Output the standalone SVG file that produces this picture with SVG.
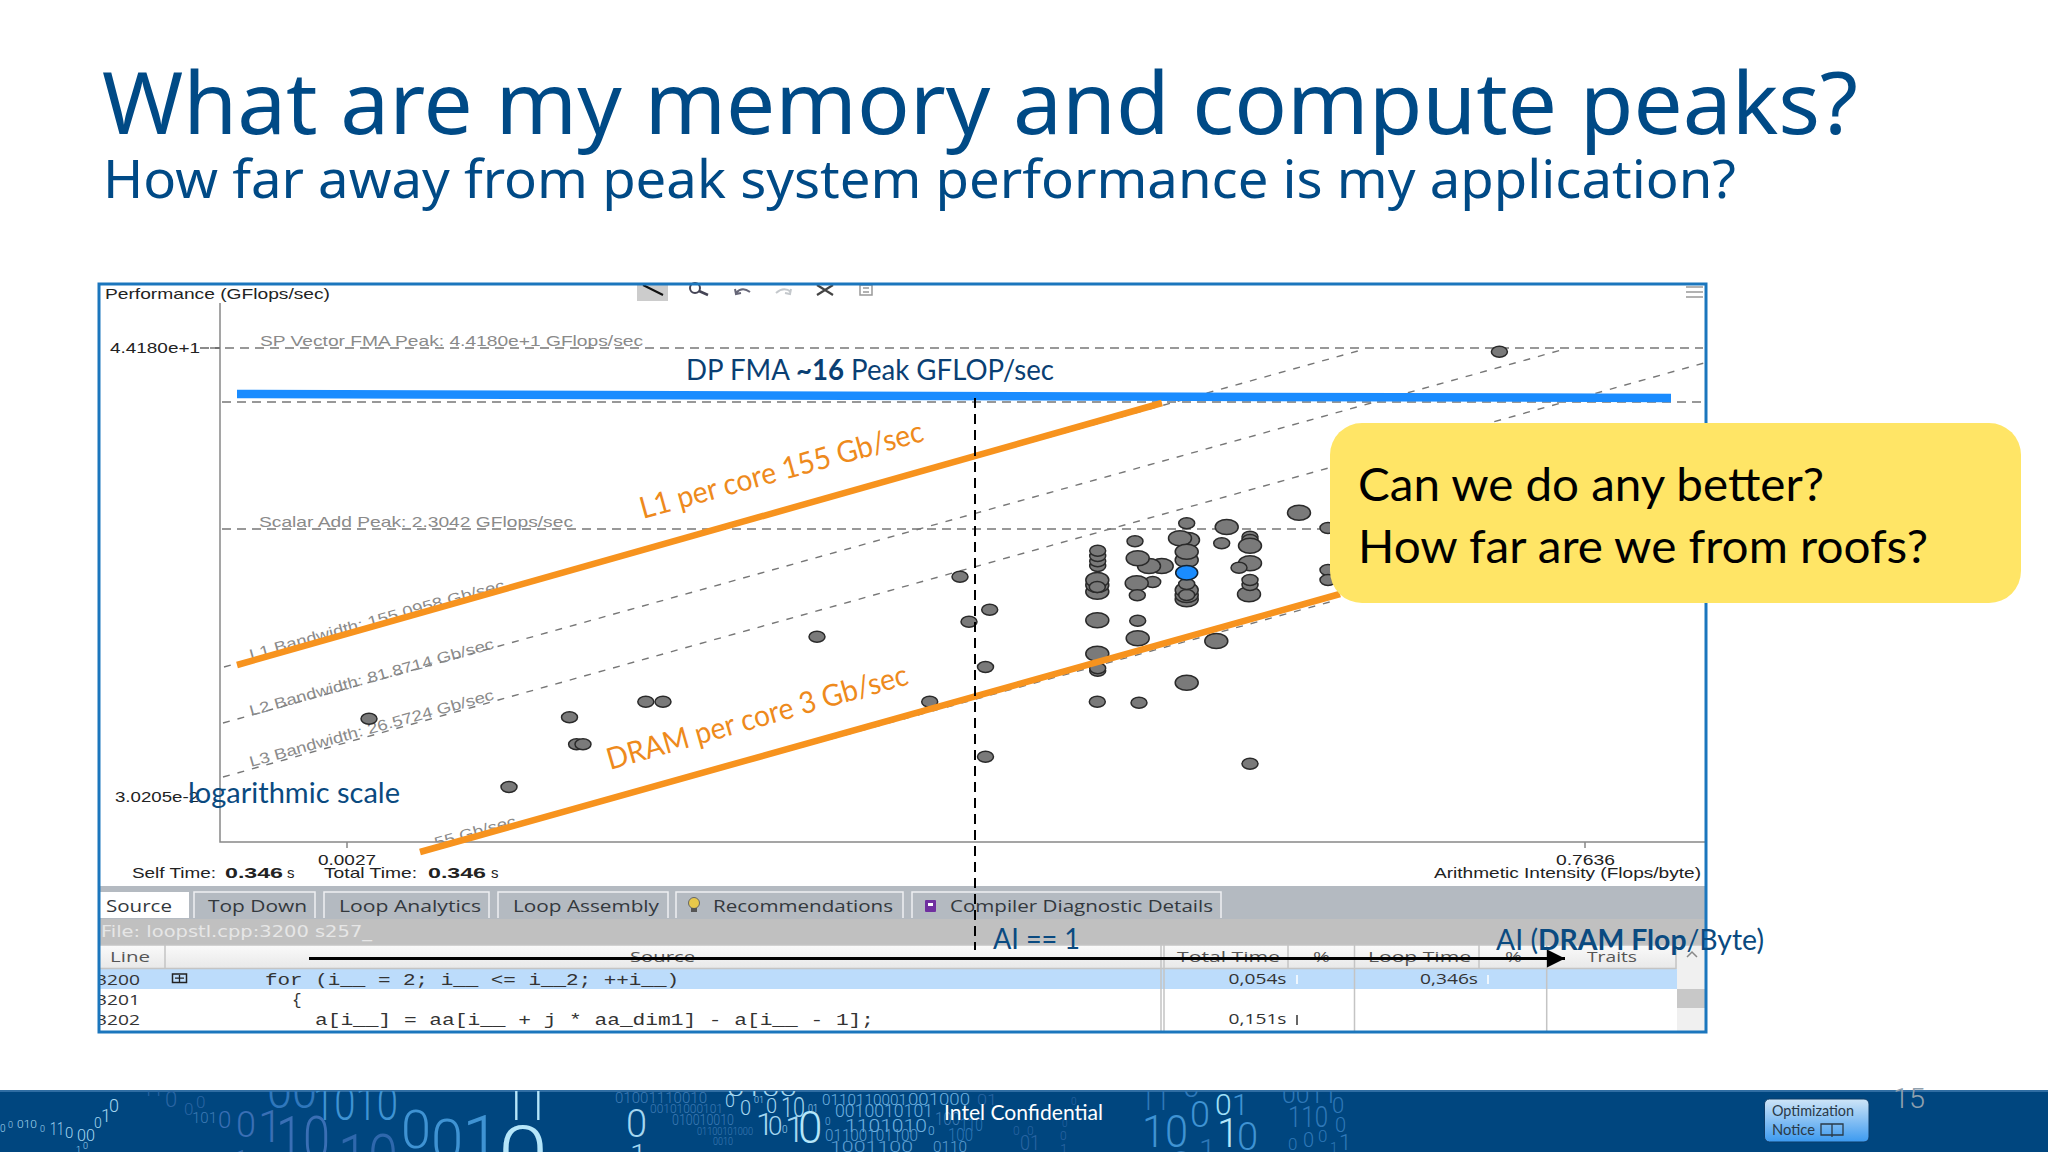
<svg xmlns="http://www.w3.org/2000/svg" width="2048" height="1152" viewBox="0 0 2048 1152">
<style>
text{font-family:"Liberation Sans",Arial,sans-serif}
.cal{font-family:Lato,"Noto Sans",sans-serif}
.ttl{font-family:"Noto Sans","Open Sans",sans-serif;fill:#004a86}
.mono{font-family:"Liberation Mono",monospace;font-size:16px;fill:#333}
.gr{fill:#8a8a8a;font-size:15px}
.ax{fill:#222;font-size:15px}
.tab{fill:#33383d;font-size:16px;font-family:"Open Sans","Noto Sans",sans-serif}
.tb{fill:#b4bac1;stroke:#eef0f2;stroke-width:1.5}
.hd{fill:#555;font-size:15px;font-family:"Open Sans",sans-serif}
.dk{fill:#333;font-size:15px;font-family:"Open Sans",sans-serif}
.h{fill:none;stroke:#777;stroke-width:1.5;stroke-dasharray:9 6}
.g{fill:none;stroke:#777;stroke-width:1.4;stroke-dasharray:7 8}
.o{fill:none;stroke:#f7931e;stroke-width:6.5}
.ot{fill:#ee8a1c;font-size:30px}
.navy{fill:#0a4a80;font-size:28px}
.s{fill:#7a7a7a;stroke:#2a2a2a;stroke-width:1.5}
.sep{stroke:#c4c4c4;stroke-width:1.5}
#digits text{font-family:Roboto,"Open Sans",sans-serif;font-weight:300}
.a{fill:#a4d6f0}.f{fill:#2a65a3}.m{fill:#3a6fb5}.b{fill:#3f93d3}.l{fill:#b5e6fa}.r{fill:#6fb2e0}.q{fill:#3e7bb5}.p{fill:#2f78b8}
</style>
<defs>
<clipPath id="fc"><rect x="0" y="1091" width="2048" height="61"/></clipPath>
<clipPath id="pc"><rect x="99" y="284" width="1606" height="748"/></clipPath>
<clipPath id="ac"><rect x="221" y="700" width="400" height="142"/></clipPath>
<linearGradient id="bt" x1="0" y1="0" x2="0" y2="1"><stop offset="0" stop-color="#cfe5f7"/><stop offset="1" stop-color="#3c9af0"/></linearGradient>
<linearGradient id="hdg" x1="0" y1="0" x2="0" y2="1"><stop offset="0" stop-color="#fafafa"/><stop offset="1" stop-color="#e8e8e8"/></linearGradient>
<marker id="ah" markerUnits="userSpaceOnUse" markerWidth="20" markerHeight="20" refX="18" refY="9" orient="auto"><path d="M0 0L18 9L0 18Z" fill="#000"/></marker>
<ellipse id="B" rx="11.5" ry="7.500" class="s"/>
<ellipse id="S" rx="8" ry="5.500" class="s"/>
</defs>
<rect width="2048" height="1152" fill="#fff"/>

<g id="title">
<text class="ttl" x="102" y="134" font-size="86" textLength="1756" lengthAdjust="spacingAndGlyphs">What are my memory and compute peaks?</text>
<text class="ttl" x="103" y="198" font-size="53" textLength="1633" lengthAdjust="spacingAndGlyphs">How far away from peak system performance is my application?</text>
</g>

<g id="chart">
<rect x="99" y="284" width="1607" height="748" fill="#fff"/>
<g id="toolbar" fill="none" stroke="#666" stroke-width="1.5">
<rect x="637" y="284" width="31" height="17" fill="#ccc" stroke="none"/>
<path d="M643 285L663 295" stroke="#111" stroke-width="2"/>
<circle cx="695" cy="288" r="5" stroke="#445" stroke-width="2"/><path d="M699 291L708 295" stroke="#445" stroke-width="2.5"/>
<path d="M736 293Q742 286 750 292M735 289L736 294L741 293" stroke="#667" stroke-width="2"/>
<path d="M791 292Q784 286 776 293M791 289L790 294L785 293" stroke="#c4c8cc" stroke-width="2"/>
<path d="M817 285L833 295M833 285L817 295" stroke="#444" stroke-width="2.200"/>
<rect x="860" y="285" width="12" height="10" stroke="#999"/><path d="M863 288H869M863 292H869" stroke="#999"/>
<path d="M1686 287H1703M1686 292H1703M1686 297H1703" stroke="#999"/>
</g>
<path d="M220 303V842H1705M347 842V848M1585 842V848" fill="none" stroke="#888" stroke-width="1.5"/>
<g id="chart-connectors">
<path class="h" d="M210 348H1703M222 402H1703M222 529H1703"/>
<path class="g" d="M224 667L1365 349M223 723L1565 349M223 777L1704 363M455 842L1337 600"/>
</g>
<g class="gr">
<text x="260" y="346" textLength="383" lengthAdjust="spacingAndGlyphs">SP Vector FMA Peak: 4.4180e+1 GFlops/sec</text>
<text x="259" y="527" textLength="314" lengthAdjust="spacingAndGlyphs">Scalar Add Peak: 2.3042 GFlops/sec</text>
<text transform="translate(251 660) rotate(-15.5)" textLength="264" lengthAdjust="spacingAndGlyphs">L1 Bandwidth: 155.0958 Gb/sec</text>
<text transform="translate(251 716) rotate(-15.5)" textLength="253" lengthAdjust="spacingAndGlyphs">L2 Bandwidth: 81.8714 Gb/sec</text>
<text transform="translate(251 767) rotate(-15.5)" textLength="253" lengthAdjust="spacingAndGlyphs">L3 Bandwidth: 26.5724 Gb/sec</text>
<g clip-path="url(#ac)"><text transform="translate(436 848) rotate(-15.5)" textLength="84" lengthAdjust="spacingAndGlyphs">55 Gb/sec</text></g>
</g>
<text x="105" y="299" class="ax" textLength="225" lengthAdjust="spacingAndGlyphs">Performance (GFlops/sec)</text>
<text x="110" y="353" class="ax" textLength="90" lengthAdjust="spacingAndGlyphs">4.4180e+1</text>
<text x="115" y="802" class="ax" textLength="84" lengthAdjust="spacingAndGlyphs">3.0205e-2</text>
<path d="M200 348H220" stroke="#666" stroke-dasharray="9 6" stroke-width="1.5" fill="none"/>
<text x="318" y="865" class="ax" textLength="58" lengthAdjust="spacingAndGlyphs">0.0027</text>
<text x="132" y="878" class="ax" textLength="84" lengthAdjust="spacingAndGlyphs">Self Time:</text>
<text x="225" y="878" class="ax" font-weight="700" textLength="58" lengthAdjust="spacingAndGlyphs">0.346</text>
<text x="287" y="878" class="ax">s</text>
<text x="324" y="878" class="ax" textLength="93" lengthAdjust="spacingAndGlyphs">Total Time:</text>
<text x="428" y="878" class="ax" font-weight="700" textLength="58" lengthAdjust="spacingAndGlyphs">0.346</text>
<text x="491" y="878" class="ax">s</text>
<text x="1556" y="865" class="ax" textLength="59" lengthAdjust="spacingAndGlyphs">0.7636</text>
<text x="1434" y="878" class="ax" textLength="267" lengthAdjust="spacingAndGlyphs">Arithmetic Intensity (Flops/byte)</text>

<g id="points">
<use href="#S" x="1499.4" y="351.7"/><use href="#S" x="960" y="576.7"/><use href="#S" x="989.7" y="609.7"/><use href="#S" x="969" y="621.7"/><use href="#S" x="817" y="636.7"/><use href="#S" x="985.5" y="667"/><use href="#S" x="929.7" y="701.7"/><use href="#S" x="985.5" y="756.7"/>
<use href="#S" x="369" y="718.7"/><use href="#S" x="569.5" y="717.3"/><use href="#S" x="645.8" y="701.7"/><use href="#S" x="663" y="701.7"/><use href="#S" x="576.6" y="744.3"/><use href="#S" x="583" y="744.3"/><use href="#S" x="509" y="787"/>
<use href="#S" x="1328" y="528"/><use href="#S" x="1328" y="570"/><use href="#S" x="1328" y="580"/>
<use href="#B" x="1299" y="512.7"/><use href="#S" x="1186.7" y="523.3"/><use href="#B" x="1226.7" y="527"/><use href="#S" x="1135" y="541.3"/>
<use href="#S" x="1250" y="536.7"/><use href="#S" x="1250" y="540"/><use href="#B" x="1250" y="545.7"/><use href="#S" x="1221.7" y="543.3"/>
<use href="#S" x="1097.7" y="566"/><use href="#S" x="1097.7" y="561.3"/><use href="#S" x="1097.7" y="556"/><use href="#S" x="1097.7" y="550.7"/>
<use href="#B" x="1161.7" y="566"/><use href="#B" x="1149" y="566"/><use href="#B" x="1137.7" y="558.3"/>
<use href="#B" x="1188" y="540"/><use href="#B" x="1180" y="538.3"/><use href="#B" x="1186.7" y="560"/><use href="#B" x="1186.7" y="551.7"/>
<use href="#B" x="1250" y="563.3"/><use href="#S" x="1239" y="567.7"/>
<use href="#B" x="1097.3" y="591.7"/><use href="#B" x="1097.3" y="585"/><use href="#B" x="1097.3" y="580"/><use href="#S" x="1097.3" y="587"/>
<use href="#S" x="1152.7" y="582"/><use href="#B" x="1136.7" y="583.3"/><use href="#S" x="1137.3" y="595.3"/>
<use href="#B" x="1186.7" y="599.3"/><use href="#B" x="1186.7" y="595"/><use href="#B" x="1186.7" y="590"/><use href="#S" x="1186.7" y="595"/><use href="#S" x="1186.7" y="584"/>
<ellipse cx="1186.7" cy="572.7" rx="11" ry="7.200" fill="#1a8cff" stroke="#123" stroke-width="1.5"/>
<use href="#B" x="1249" y="594.3"/><use href="#S" x="1250" y="585"/><use href="#S" x="1250" y="580"/>
<use href="#B" x="1097.3" y="620.3"/><use href="#S" x="1137.7" y="620.7"/><use href="#B" x="1137.7" y="638.3"/><use href="#B" x="1216.3" y="641"/>
<use href="#S" x="1097.7" y="670.7"/><use href="#S" x="1097.7" y="668.3"/><use href="#B" x="1097.3" y="653.7"/>
<use href="#B" x="1186.7" y="682.7"/><use href="#S" x="1097.3" y="701.7"/><use href="#S" x="1139" y="702.7"/><use href="#S" x="1250" y="763.7"/>
</g>

<g id="panel" clip-path="url(#pc)">
<rect x="99" y="886" width="1607" height="33" fill="#b4bac1"/>
<rect x="99" y="919" width="1607" height="26" fill="#c0c0c0"/>
<path d="M99 892H189V918H99Z" fill="#fff"/>
<path class="tb" d="M194 918V892H315V918"/>
<path class="tb" d="M324 918V892H489V918"/>
<path class="tb" d="M498 918V892H668V918"/>
<path class="tb" d="M676 918V892H903V918"/>
<path class="tb" d="M912 918V892H1221V918"/>
<text x="106" y="912" class="tab" textLength="66" lengthAdjust="spacingAndGlyphs">Source</text>
<text x="208" y="912" class="tab" textLength="99" lengthAdjust="spacingAndGlyphs">Top Down</text>
<text x="339" y="912" class="tab" textLength="142" lengthAdjust="spacingAndGlyphs">Loop Analytics</text>
<text x="513" y="912" class="tab" textLength="146" lengthAdjust="spacingAndGlyphs">Loop Assembly</text>
<text x="713" y="912" class="tab" textLength="180" lengthAdjust="spacingAndGlyphs">Recommendations</text>
<text x="950" y="912" class="tab" textLength="263" lengthAdjust="spacingAndGlyphs">Compiler Diagnostic Details</text>
<circle cx="694" cy="903" r="5.5" fill="#e8c84a" stroke="#666"/><rect x="691" y="908" width="6" height="4" fill="#555"/>
<rect x="925" y="900" width="11" height="12" rx="1" fill="#7030a0"/><rect x="928" y="903" width="5" height="3" fill="#fff"/>
<text x="101" y="937" style="font-family:'DejaVu Sans',sans-serif" font-size="15" fill="#e6e6e6" textLength="271" lengthAdjust="spacingAndGlyphs">File: loopstl.cpp:3200 s257_</text>
<rect x="99" y="945" width="1607" height="24" fill="url(#hdg)"/>
<rect x="100" y="969" width="1577" height="20" fill="#bcdcfb"/>
<rect x="1677" y="945" width="28" height="87" fill="#f0f0f0"/>
<rect x="1677" y="989" width="28" height="19" fill="#c8c8c8"/>
<path class="sep" d="M165 945V969M1161 945V1032M1164 945V1032M1288 945V969M1354.5 945V1032M1479 945V969M1546.7 945V1032M1676 945V969M99 968.5H1676M99 945H1706"/>
<text x="110" y="962" class="hd" textLength="40" lengthAdjust="spacingAndGlyphs">Line</text>
<text x="630" y="962" class="hd" textLength="65" lengthAdjust="spacingAndGlyphs">Source</text>
<text x="1177" y="962" class="hd" textLength="103" lengthAdjust="spacingAndGlyphs">Total Time</text>
<text x="1313" y="962" class="hd" textLength="17" lengthAdjust="spacingAndGlyphs">%</text>
<text x="1368" y="962" class="hd" textLength="103" lengthAdjust="spacingAndGlyphs">Loop Time</text>
<text x="1505" y="962" class="hd" textLength="17" lengthAdjust="spacingAndGlyphs">%</text>
<text x="1587" y="962" class="hd" textLength="50" lengthAdjust="spacingAndGlyphs">Traits</text>
<path d="M1687 957L1692 952L1697 957" fill="none" stroke="#888" stroke-width="1.5"/>
<text x="96" y="985" class="dk" textLength="44" lengthAdjust="spacingAndGlyphs">3200</text>
<text x="96" y="1005" class="dk" textLength="44" lengthAdjust="spacingAndGlyphs">3201</text>
<text x="96" y="1025" class="dk" textLength="44" lengthAdjust="spacingAndGlyphs">3202</text>
<rect x="172.500" y="974" width="14" height="8.500" fill="none" stroke="#222" stroke-width="1.5"/><path d="M175 978.200H184M179.500 975V982" stroke="#222" stroke-width="1.300"/>
<text x="265" y="985" class="mono" textLength="414" lengthAdjust="spacingAndGlyphs" xml:space="preserve">for (i__ = 2; i__ &lt;= i__2; ++i__)</text>
<text x="292" y="1005" class="mono">{</text>
<text x="315" y="1025" class="mono" textLength="559" lengthAdjust="spacingAndGlyphs" xml:space="preserve">a[i__] = aa[i__ + j * aa_dim1] - a[i__ - 1];</text>
<text x="1228.500" y="984" class="dk" textLength="58" lengthAdjust="spacingAndGlyphs">0,054s</text>
<text x="1420" y="984" class="dk" textLength="58" lengthAdjust="spacingAndGlyphs">0,346s</text>
<text x="1228.500" y="1024" class="dk" textLength="58" lengthAdjust="spacingAndGlyphs">0,151s</text>
<path d="M1297 975V984M1488 975V984" stroke="#fff" stroke-width="1.5"/>
<path d="M1297 1015V1025" stroke="#333" stroke-width="1.500"/>
</g>
<rect x="99" y="284" width="1607" height="748" fill="none" stroke="#1b76bd" stroke-width="3"/>
</g>

<g id="annotations">
<path d="M237 394L1671 398" fill="none" stroke="#1a8cff" stroke-width="8.500"/>
<path class="o" d="M237 665L1162 403"/>
<path class="o" d="M420 852L1340 594"/>
<path d="M975 398V950" fill="none" stroke="#000" stroke-width="2" stroke-dasharray="10 6"/>
<path d="M309 958.500H1565" fill="none" stroke="#000" stroke-width="3" marker-end="url(#ah)"/>
<text x="686" y="380" class="cal" font-size="28" fill="#0a3f73" textLength="368" lengthAdjust="spacingAndGlyphs">DP FMA <tspan font-weight="700">~16</tspan> Peak GFLOP/sec</text>
<text transform="translate(643 519) rotate(-15.500)" class="cal ot" textLength="293" lengthAdjust="spacingAndGlyphs">L1 per core 155 Gb/sec</text>
<text transform="translate(610 770) rotate(-16)" class="cal ot" textLength="312" lengthAdjust="spacingAndGlyphs">DRAM per core 3 Gb/sec</text>
<text x="188" y="803" class="cal navy" textLength="212" lengthAdjust="spacingAndGlyphs">logarithmic scale</text>
<text x="993" y="949" class="cal navy" textLength="87" lengthAdjust="spacingAndGlyphs">AI == 1</text>
<text x="1496" y="950" class="cal navy" textLength="268" lengthAdjust="spacingAndGlyphs">AI (<tspan font-weight="700">DRAM Flop</tspan>/Byte)</text>
</g>

<g id="callout">
<rect x="1330" y="423" width="691" height="180" rx="32" fill="#ffe566"/>
<text x="1358" y="501" class="cal" font-size="46" fill="#000" textLength="466" lengthAdjust="spacingAndGlyphs">Can we do any better?</text>
<text x="1358" y="563" class="cal" font-size="46" fill="#000" textLength="570" lengthAdjust="spacingAndGlyphs">How far are we from roofs?</text>
</g>

<g id="footer">
<rect x="0" y="1091" width="2048" height="61" fill="#00467f"/>
<rect x="0" y="1090" width="2048" height="2" fill="#2f6da3"/>
<g id="digits" clip-path="url(#fc)">
<text class="a" x="0" y="1132" font-size="10">0</text><text class="a" x="8" y="1128" font-size="9">0</text><text class="a" x="17" y="1128" font-size="11" textLength="20" lengthAdjust="spacingAndGlyphs">010</text><text class="a" x="40" y="1132" font-size="9">0</text>
<text class="a" x="50" y="1135" font-size="18" textLength="14" lengthAdjust="spacingAndGlyphs">11</text><text class="a" x="65" y="1138" font-size="15">0</text><text class="a" x="77" y="1141" font-size="16" textLength="18" lengthAdjust="spacingAndGlyphs">00</text>
<text class="a" x="94" y="1128" font-size="14">0</text><text class="a" x="101" y="1122" font-size="18">1</text><text class="a" x="109" y="1112" font-size="18">0</text><text class="a" x="76" y="1153" font-size="9">1</text><text class="a" x="83" y="1149" font-size="9">0</text>

<text class="f" x="143" y="1096" font-size="30" textLength="20" lengthAdjust="spacingAndGlyphs">11</text><text class="f" x="165" y="1107" font-size="22">0</text><text class="f" x="184" y="1115" font-size="17">0</text><text class="f" x="196" y="1108" font-size="17">0</text>
<text class="q" x="192" y="1123" font-size="15" textLength="25">101</text>
<text x="267" y="1108" font-size="50" textLength="50" lengthAdjust="spacingAndGlyphs" fill="#2f77bc">00</text>
<text class="b" x="313" y="1120" font-size="48" textLength="85" lengthAdjust="spacingAndGlyphs">1010</text>
<text class="m" x="218" y="1128" font-size="24">0</text><text class="m" x="236" y="1137" font-size="36">0</text><text class="m" x="258" y="1142" font-size="44">1</text>
<text class="m" x="276" y="1160" font-size="62" textLength="54" lengthAdjust="spacingAndGlyphs">10</text>
<text class="m" x="236" y="1165" font-size="20">1</text>
<text x="338" y="1180" font-size="64" textLength="60" lengthAdjust="spacingAndGlyphs" fill="#2f68ad">10</text>
<text class="b" x="401" y="1148" font-size="54">0</text><text class="b" x="431" y="1160" font-size="58">0</text><text class="b" x="462" y="1165" font-size="70">1</text>
<text class="l" x="504" y="1120" font-size="70" textLength="44" lengthAdjust="spacingAndGlyphs">11</text>
<text class="l" x="498" y="1182" font-size="80" textLength="50" lengthAdjust="spacingAndGlyphs">0</text>

<text class="q" x="615" y="1103" font-size="15" textLength="92" lengthAdjust="spacingAndGlyphs">01001110010</text>
<text class="q" x="650" y="1113" font-size="12" textLength="73" lengthAdjust="spacingAndGlyphs">00101000101</text>
<text class="q" x="672" y="1125" font-size="14" textLength="62" lengthAdjust="spacingAndGlyphs">010010010</text>
<text class="q" x="697" y="1135" font-size="10" textLength="56" lengthAdjust="spacingAndGlyphs">01100101000</text>
<text class="q" x="713" y="1145" font-size="10" textLength="20" lengthAdjust="spacingAndGlyphs">0010</text>
<text class="a" x="626" y="1137" font-size="38">0</text><text class="a" x="630" y="1165" font-size="30">1</text>
<text class="a" x="727" y="1096" font-size="20" textLength="70" lengthAdjust="spacingAndGlyphs">0100</text>
<text class="a" x="725" y="1107" font-size="18">0</text><text class="a" x="740" y="1115" font-size="20">0</text><text class="a" x="754" y="1103" font-size="9">01</text><text class="a" x="766" y="1113" font-size="20">0</text>
<text class="a" x="781" y="1117" font-size="28" textLength="24" lengthAdjust="spacingAndGlyphs">10</text><text class="a" x="808" y="1112" font-size="11" textLength="10" lengthAdjust="spacingAndGlyphs">01</text>
<text class="a" x="756" y="1135" font-size="32">1</text><text class="a" x="768" y="1135" font-size="26">0</text><text class="a" x="782" y="1133" font-size="10">0</text><text class="a" x="785" y="1142" font-size="36">1</text>
<text class="l" x="798" y="1143" font-size="44">0</text>
<g>
<text class="r" x="822" y="1105" font-size="15" textLength="85" lengthAdjust="spacingAndGlyphs">0110110001</text>
<text class="r" x="835" y="1117" font-size="18" textLength="98" lengthAdjust="spacingAndGlyphs">0010010101</text>
<text class="r" x="845" y="1132" font-size="19" textLength="82" lengthAdjust="spacingAndGlyphs">1101010</text>
<text class="r" x="825" y="1125" font-size="10">0</text>
<text x="825" y="1141" font-size="16" textLength="93" lengthAdjust="spacingAndGlyphs" fill="#5d9fd3">01100101100</text>
<text class="r" x="928" y="1135" font-size="12">0</text>
<text x="830" y="1152" font-size="15" textLength="83" lengthAdjust="spacingAndGlyphs" fill="#5d9fd3">1001100</text>
<text x="933" y="1152" font-size="14" textLength="34" fill="#5d9fd3" lengthAdjust="spacingAndGlyphs">0110</text>
<text class="p" x="948" y="1141" font-size="18" textLength="25" lengthAdjust="spacingAndGlyphs">100</text>
<text class="r" x="908" y="1105" font-size="16" textLength="62" lengthAdjust="spacingAndGlyphs">001000</text>
<text class="q" x="935" y="1125" font-size="18" textLength="25" lengthAdjust="spacingAndGlyphs">100</text>
<text class="p" x="960" y="1131" font-size="18" textLength="23" lengthAdjust="spacingAndGlyphs">110</text>
<text class="f" x="977" y="1105" font-size="14" textLength="20" lengthAdjust="spacingAndGlyphs">01</text>
</g>
<text class="f" x="1013" y="1135" font-size="12">0</text><text class="f" x="1027" y="1135" font-size="12">0</text><text class="f" x="1020" y="1150" font-size="20" textLength="20" lengthAdjust="spacingAndGlyphs">01</text>
<text class="f" x="1071" y="1105" font-size="10">0</text><text class="f" x="1062" y="1127" font-size="10">0</text><text class="f" x="1060" y="1140" font-size="12">0</text><text class="f" x="1060" y="1155" font-size="14">1</text>

<text class="p" x="1140" y="1110" font-size="50" textLength="30" lengthAdjust="spacingAndGlyphs">11</text>
<text class="p" x="1183" y="1097" font-size="30">0</text>
<text class="b" x="1142" y="1147" font-size="45" textLength="46" lengthAdjust="spacingAndGlyphs">10</text>
<text class="b" x="1190" y="1127" font-size="36">0</text>
<text x="1215" y="1115" font-size="30" fill="#9fe0f8">0</text><text class="b" x="1232" y="1115" font-size="30">1</text>
<text class="l" x="1217" y="1147" font-size="40">1</text><text class="b" x="1237" y="1150" font-size="38">0</text>
<text class="p" x="1199" y="1160" font-size="30">1</text><text class="p" x="1170" y="1180" font-size="40">0</text>
<text class="p" x="1282" y="1103" font-size="24" textLength="55" lengthAdjust="spacingAndGlyphs">0011</text>
<text class="p" x="1288" y="1127" font-size="30" textLength="40" lengthAdjust="spacingAndGlyphs">110</text>
<text class="p" x="1332" y="1113" font-size="22">0</text><text class="p" x="1335" y="1132" font-size="20">0</text>
<text class="p" x="1288" y="1150" font-size="17">0</text><text class="p" x="1303" y="1147" font-size="20">0</text><text class="p" x="1318" y="1142" font-size="17">0</text>
<text class="p" x="1330" y="1153" font-size="14">1</text><text class="p" x="1339" y="1150" font-size="22">1</text>
</g>
<text x="944" y="1120" class="cal" font-size="21" fill="#fff" textLength="159" lengthAdjust="spacingAndGlyphs">Intel Confidential</text>
<text x="1893" y="1108" font-size="28" fill="#8fa0ae" style="font-family:Roboto,sans-serif;font-weight:300" textLength="32" lengthAdjust="spacingAndGlyphs">15</text>
<g id="optimization-notice">
<rect x="1764.500" y="1099" width="104.500" height="43" rx="5" fill="url(#bt)" stroke="#0d3c68" stroke-width="1"/>
<text x="1772" y="1116" class="cal" font-size="16" fill="#2a3a48" textLength="82" lengthAdjust="spacingAndGlyphs">Optimization</text>
<text x="1772" y="1135" class="cal" font-size="16" fill="#2a3a48" textLength="43" lengthAdjust="spacingAndGlyphs">Notice</text>
<path d="M1821 1124H1832V1135H1821ZM1832 1124H1843V1135H1832ZM1832 1124V1137" fill="none" stroke="#2a3a48" stroke-width="1.300"/>
</g>
</g>
</svg>
